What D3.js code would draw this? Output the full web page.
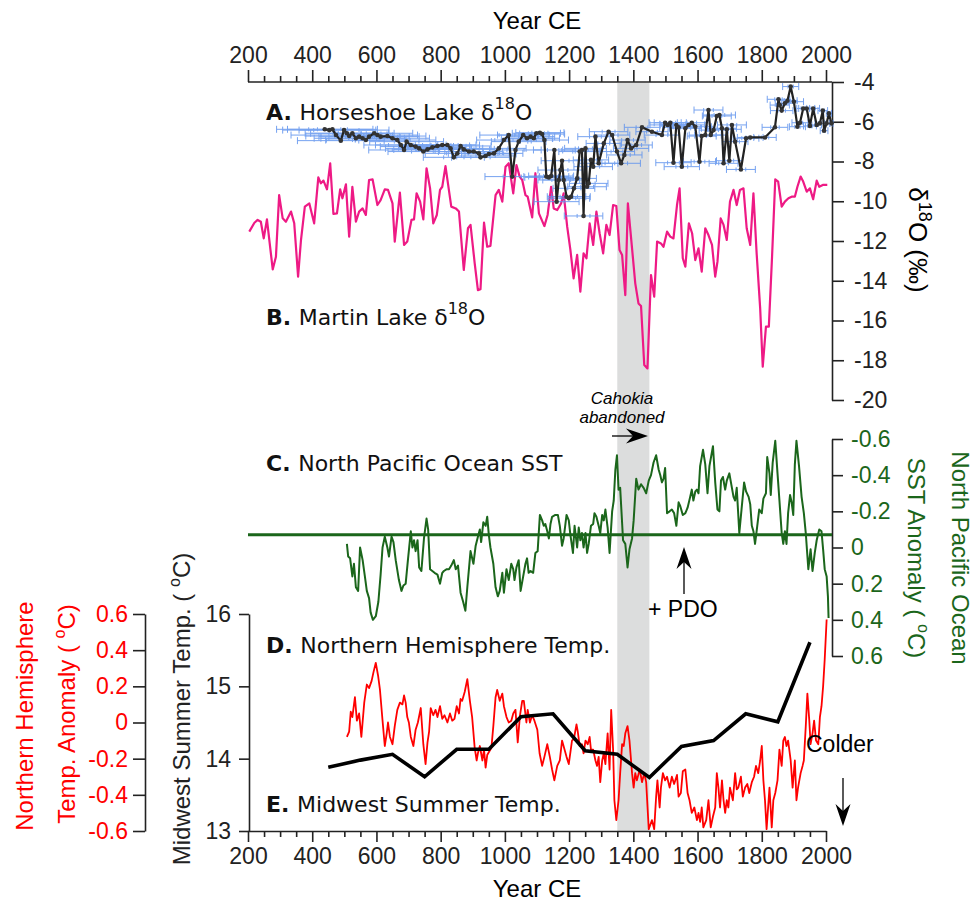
<!DOCTYPE html>
<html><head><meta charset="utf-8">
<script src="https://cdn.jsdelivr.net/npm/d3@7"></script>
<style>body{margin:0;background:#fff}</style>
</head><body>
<svg id="c" width="973" height="902"></svg>
<script>
// ---------------- DATA ----------------
const yearTicks = [200,400,600,800,1000,1200,1400,1600,1800,2000];
const d18OTicks = [-4,-6,-8,-10,-12,-14,-16,-18,-20];
const sstTicks = [-0.6,-0.4,-0.2,0,0.2,0.4,0.6];
const nhTicks = [-0.6,-0.4,-0.2,0,0.2,0.4,0.6];
const midwestTicks = [13,14,15,16];
const cahokiaSpan = [1350,1450];
const sstMean = -0.07;

// Horseshoe Lake d18O: [year, d18O, age uncertainty (yr)]
const horseshoe = [[439,-6.38,150],[453,-6.42,145],[463,-6.38,140],[474,-6.67,140],[489,-6.95,135],[499,-6.42,140],[508,-6.58,130],[515,-6.72,135],[525,-6.58,130],[536,-6.83,130],[546,-6.75,125],[557,-6.83,130],[567,-6.92,125],[577,-6.75,125],[593,-6.58,120],[603,-6.67,125],[613,-6.75,120],[634,-6.72,120],[650,-6.83,115],[665,-6.92,120],[676,-7.17,115],[686,-7.42,110],[694,-7.00,115],[707,-7.17,110],[722,-7.25,110],[733,-7.34,105],[746,-7.50,110],[759,-7.39,105],[774,-7.29,105],[790,-7.22,100],[805,-7.17,105],[821,-7.17,100],[831,-7.34,100],[841,-7.79,95],[852,-7.59,100],[862,-7.22,95],[872,-7.39,95],[888,-7.50,95],[903,-7.50,90],[919,-7.59,95],[924,-7.79,90],[940,-7.72,90],[950,-7.62,85],[966,-7.59,90],[981,-7.34,85],[997,-6.92,85],[1012,-6.67,90],[1023,-8.76,85],[1033,-7.42,80],[1043,-7.00,85],[1057,-6.67,80],[1069,-6.83,80],[1080,-6.75,75],[1090,-6.83,80],[1098,-6.58,75],[1109,-6.55,75],[1116,-6.62,70],[1123,-6.92,75],[1129,-8.76,70],[1137,-8.80,75],[1144,-8.73,70],[1154,-7.42,65],[1161,-10.02,70],[1168,-8.93,65],[1173,-8.43,70],[1178,-7.96,65],[1183,-8.93,65],[1192,-9.77,60],[1199,-9.85,65],[1206,-9.77,60],[1215,-9.35,65],[1225,-8.85,60],[1233,-7.50,65],[1240,-7.42,60],[1245,-10.74,60],[1251,-7.34,65],[1256,-9.27,60],[1261,-9.10,60],[1268,-7.92,55],[1275,-8.26,60],[1282,-6.75,55],[1292,-8.09,60],[1308,-7.09,55],[1323,-6.50,60],[1334,-6.67,55],[1349,-7.50,55],[1362,-8.09,60],[1372,-7.67,55],[1382,-6.92,55],[1393,-7.34,55],[1409,-7.17,50],[1427,-6.28,55],[1458,-6.50,50],[1489,-6.67,55],[1499,-6.05,50],[1507,-6.16,55],[1515,-6.05,50],[1525,-8.06,55],[1534,-6.16,50],[1541,-6.28,50],[1551,-8.26,55],[1562,-6.33,50],[1572,-6.16,50],[1582,-6.05,45],[1593,-6.25,50],[1606,-8.01,50],[1613,-6.72,45],[1624,-6.67,50],[1634,-5.41,45],[1641,-6.67,50],[1650,-6.42,45],[1660,-5.71,45],[1668,-5.66,50],[1676,-6.33,45],[1681,-8.09,45],[1691,-6.38,45],[1699,-7.96,40],[1707,-6.16,45],[1717,-7.00,40],[1735,-8.40,45],[1751,-6.83,40],[1764,-6.79,40],[1810,-6.79,35],[1841,-6.28,40],[1852,-4.87,35],[1856,-5.16,30],[1862,-5.44,35],[1872,-5.07,30],[1880,-4.94,30],[1890,-4.23,25],[1900,-4.99,30],[1911,-6.25,25],[1919,-6.05,25],[1929,-5.33,20],[1940,-5.33,25],[1950,-6.21,20],[1960,-5.33,20],[1971,-6.16,15],[1981,-6.08,15],[1990,-5.44,15],[1994,-6.45,12],[2002,-6.08,10],[2009,-5.58,8],[2017,-6.08,5]];

// Martin Lake d18O: [year, d18O]
const martin = [[204,-11.53],[220,-11.08],[230,-10.94],[240,-11.03],[249,-11.87],[259,-10.91],[277,-13.43],[287,-12.79],[297,-9.69],[308,-10.86],[318,-11.03],[334,-10.52],[344,-11.11],[356,-13.79],[365,-11.95],[377,-10.27],[391,-10.11],[406,-11.11],[419,-8.80],[427,-9.10],[435,-8.96],[446,-9.40],[456,-8.09],[466,-10.64],[477,-10.61],[487,-9.40],[494,-9.85],[505,-9.15],[515,-11.78],[525,-9.27],[536,-11.03],[546,-10.52],[557,-10.36],[567,-10.69],[577,-8.93],[588,-8.90],[603,-10.19],[613,-9.94],[626,-9.40],[636,-9.43],[650,-10.11],[657,-12.03],[673,-9.57],[686,-12.20],[696,-12.03],[709,-10.94],[717,-10.91],[725,-9.60],[736,-10.02],[746,-10.91],[756,-8.34],[767,-9.35],[777,-11.11],[788,-10.69],[798,-9.43],[805,-9.27],[815,-8.23],[833,-10.27],[847,-10.36],[857,-10.52],[872,-13.46],[885,-11.36],[893,-11.19],[906,-13.12],[916,-14.47],[924,-14.43],[935,-11.08],[945,-12.29],[955,-12.25],[971,-9.69],[981,-9.43],[992,-10.02],[1002,-8.26],[1012,-8.09],[1026,-9.60],[1036,-8.18],[1046,-8.76],[1054,-8.93],[1064,-9.69],[1071,-9.77],[1085,-10.81],[1095,-8.59],[1106,-10.61],[1123,-11.25],[1133,-10.69],[1144,-9.27],[1152,-10.36],[1163,-10.44],[1175,-10.11],[1183,-9.60],[1194,-11.28],[1204,-12.45],[1214,-13.88],[1225,-12.70],[1235,-14.55],[1245,-12.62],[1254,-12.87],[1264,-11.11],[1275,-12.20],[1285,-10.52],[1295,-11.61],[1306,-12.62],[1316,-11.19],[1326,-11.70],[1337,-10.19],[1347,-10.24],[1357,-12.45],[1365,-12.70],[1375,-14.72],[1383,-10.11],[1396,-12.37],[1406,-14.13],[1416,-15.14],[1424,-15.27],[1434,-18.24],[1444,-18.41],[1455,-13.71],[1465,-14.80],[1474,-12.03],[1486,-12.12],[1494,-12.29],[1505,-11.53],[1515,-11.78],[1525,-11.87],[1536,-10.19],[1544,-9.35],[1554,-12.87],[1562,-13.29],[1573,-11.11],[1583,-11.61],[1593,-12.96],[1603,-12.37],[1613,-13.54],[1624,-11.36],[1634,-11.70],[1645,-12.20],[1655,-13.79],[1662,-13.04],[1672,-10.86],[1681,-11.19],[1691,-11.95],[1701,-10.02],[1712,-9.43],[1722,-10.19],[1732,-9.43],[1743,-9.35],[1753,-11.36],[1764,-12.20],[1774,-9.60],[1784,-12.62],[1795,-15.39],[1803,-18.32],[1813,-16.31],[1822,-16.31],[1832,-12.79],[1842,-8.90],[1851,-9.01],[1862,-10.27],[1872,-10.02],[1883,-9.85],[1893,-9.77],[1903,-9.77],[1911,-9.27],[1921,-8.76],[1929,-9.01],[1940,-9.52],[1950,-9.35],[1960,-9.90],[1971,-8.96],[1979,-9.27],[1990,-9.18],[2004,-9.18]];

// North Pacific SST anomaly (deg C): [year, anomaly]
const sst = [[508,-0.02],[512,0.05],[518,0.06],[525,0.16],[530,0.09],[536,0.22],[543,0.24],[549,0.00],[557,0.07],[564,0.16],[570,0.24],[577,0.28],[582,0.36],[589,0.40],[598,0.38],[606,0.30],[613,0.15],[619,0.00],[626,-0.06],[634,0.00],[639,0.05],[647,-0.06],[653,-0.03],[660,0.07],[670,0.18],[678,0.24],[684,0.21],[691,0.20],[698,0.07],[707,-0.09],[712,0.00],[717,-0.04],[722,0.02],[728,-0.04],[733,0.11],[740,0.13],[748,-0.05],[756,-0.16],[761,-0.10],[767,0.12],[774,0.13],[781,0.14],[790,0.15],[798,0.20],[805,0.14],[810,0.13],[819,0.12],[826,0.12],[833,0.10],[841,0.07],[847,0.12],[854,0.10],[862,0.25],[870,0.30],[877,0.35],[883,0.22],[893,0.02],[902,0.09],[909,-0.01],[916,-0.06],[922,-0.10],[926,-0.03],[933,-0.14],[940,-0.12],[945,-0.17],[950,-0.07],[955,0.00],[964,0.09],[971,0.22],[978,0.27],[984,0.24],[992,0.14],[997,0.25],[1005,0.12],[1012,0.18],[1020,0.09],[1026,0.12],[1030,0.18],[1036,0.11],[1043,0.07],[1049,0.24],[1057,0.16],[1064,0.09],[1069,0.06],[1074,0.14],[1080,0.13],[1088,0.14],[1095,0.03],[1102,0.02],[1109,-0.18],[1116,-0.15],[1121,-0.12],[1126,-0.13],[1132,-0.09],[1137,-0.05],[1142,-0.13],[1147,-0.17],[1157,-0.18],[1165,-0.18],[1171,-0.12],[1178,-0.01],[1183,-0.05],[1192,-0.18],[1199,-0.15],[1204,-0.07],[1212,0.03],[1217,-0.12],[1225,0.00],[1230,-0.11],[1235,-0.04],[1240,-0.08],[1245,0.00],[1251,-0.08],[1256,0.03],[1261,-0.02],[1268,-0.12],[1275,-0.13],[1279,-0.19],[1285,-0.17],[1292,-0.12],[1297,-0.08],[1303,-0.18],[1308,-0.15],[1313,-0.21],[1320,-0.11],[1326,0.03],[1334,-0.20],[1339,-0.26],[1344,-0.43],[1349,-0.51],[1354,-0.32],[1359,-0.33],[1368,-0.04],[1375,-0.02],[1382,0.11],[1388,0.01],[1396,-0.05],[1401,-0.15],[1409,-0.38],[1416,-0.32],[1424,-0.35],[1432,-0.33],[1440,-0.30],[1448,-0.37],[1455,-0.40],[1463,-0.47],[1471,-0.51],[1479,-0.43],[1484,-0.40],[1489,-0.36],[1494,-0.38],[1499,-0.44],[1505,-0.19],[1513,-0.20],[1520,-0.21],[1527,-0.19],[1534,-0.12],[1541,-0.25],[1546,-0.23],[1554,-0.18],[1562,-0.19],[1569,-0.22],[1577,-0.28],[1582,-0.32],[1587,-0.26],[1593,-0.31],[1598,-0.32],[1603,-0.30],[1608,-0.45],[1617,-0.54],[1624,-0.46],[1631,-0.30],[1637,-0.45],[1648,-0.56],[1655,-0.36],[1662,-0.21],[1668,-0.20],[1673,-0.37],[1679,-0.39],[1686,-0.32],[1691,-0.37],[1699,-0.41],[1707,-0.33],[1712,-0.28],[1717,-0.26],[1722,-0.33],[1730,-0.08],[1738,-0.23],[1745,-0.36],[1751,-0.31],[1759,-0.28],[1764,-0.24],[1769,-0.12],[1774,-0.09],[1779,-0.02],[1784,-0.09],[1792,-0.21],[1800,-0.19],[1805,-0.27],[1813,-0.30],[1817,-0.50],[1824,-0.41],[1828,-0.29],[1834,-0.47],[1842,-0.59],[1849,-0.41],[1855,-0.26],[1862,-0.08],[1867,-0.02],[1872,-0.09],[1877,-0.02],[1882,-0.19],[1888,-0.29],[1893,-0.25],[1898,-0.18],[1903,-0.46],[1908,-0.59],[1916,-0.45],[1924,-0.28],[1931,-0.19],[1937,-0.08],[1945,0.12],[1952,0.01],[1958,0.13],[1965,0.03],[1971,-0.04],[1979,-0.10],[1986,-0.09],[1991,0.01],[1996,0.12],[2002,0.16],[2006,0.27],[2008,0.39]];

// Northern Hemisphere temperature anomaly (deg C): [year, anomaly]
const nhTemp = [[508,-0.08],[515,-0.05],[520,0.06],[525,0.03],[533,0.14],[539,0.01],[546,0.05],[553,-0.08],[562,0.11],[570,0.21],[577,0.19],[585,0.23],[591,0.28],[598,0.33],[605,0.26],[611,0.18],[619,0.01],[626,-0.13],[632,-0.06],[636,0.00],[642,-0.08],[650,-0.12],[657,-0.02],[665,0.07],[673,0.11],[681,0.10],[686,0.15],[691,0.11],[696,0.03],[701,0.00],[707,-0.08],[715,-0.13],[722,-0.04],[729,0.00],[738,0.08],[746,-0.12],[753,-0.23],[759,-0.11],[764,-0.05],[769,0.08],[777,0.04],[784,0.07],[790,0.03],[798,0.09],[805,0.02],[812,0.04],[821,0.00],[829,0.05],[836,0.01],[843,0.02],[850,0.09],[857,0.05],[862,0.13],[867,0.12],[875,0.17],[883,0.24],[891,0.12],[898,0.03],[906,-0.14],[912,-0.21],[916,-0.17],[922,-0.13],[930,-0.21],[935,-0.15],[940,-0.25],[945,-0.18],[958,-0.14],[964,-0.02],[971,0.14],[976,0.18],[984,0.12],[992,0.16],[997,0.09],[1005,0.03],[1012,0.00],[1020,0.01],[1026,0.05],[1033,0.07],[1040,-0.11],[1047,0.04],[1054,0.12],[1059,0.12],[1067,0.00],[1071,0.07],[1078,0.00],[1085,0.04],[1092,0.01],[1101,-0.04],[1108,-0.17],[1116,-0.24],[1123,-0.19],[1132,-0.12],[1140,-0.19],[1147,-0.26],[1154,-0.32],[1163,-0.24],[1171,-0.21],[1178,-0.10],[1192,-0.19],[1199,-0.23],[1209,-0.10],[1215,-0.09],[1223,-0.01],[1227,-0.05],[1233,-0.13],[1240,-0.12],[1245,-0.17],[1251,-0.10],[1258,-0.12],[1264,-0.08],[1268,-0.15],[1275,-0.15],[1282,-0.21],[1287,-0.24],[1292,-0.19],[1297,-0.33],[1303,-0.21],[1308,-0.17],[1313,-0.23],[1320,-0.06],[1326,-0.26],[1331,0.07],[1337,-0.15],[1341,-0.43],[1347,-0.54],[1354,-0.43],[1359,-0.28],[1365,-0.12],[1370,-0.13],[1375,-0.06],[1382,-0.02],[1388,-0.10],[1396,-0.28],[1401,-0.36],[1406,-0.28],[1411,-0.32],[1420,-0.26],[1427,-0.33],[1434,-0.28],[1440,-0.33],[1448,-0.59],[1458,-0.54],[1465,-0.59],[1471,-0.41],[1475,-0.32],[1482,-0.47],[1486,-0.36],[1492,-0.28],[1499,-0.32],[1505,-0.30],[1513,-0.36],[1520,-0.30],[1527,-0.34],[1536,-0.29],[1541,-0.41],[1548,-0.39],[1554,-0.27],[1562,-0.26],[1569,-0.39],[1575,-0.43],[1582,-0.50],[1590,-0.47],[1598,-0.54],[1603,-0.50],[1608,-0.55],[1613,-0.47],[1618,-0.58],[1627,-0.54],[1634,-0.43],[1641,-0.58],[1648,-0.52],[1655,-0.47],[1660,-0.28],[1665,-0.36],[1670,-0.47],[1676,-0.32],[1681,-0.43],[1686,-0.50],[1691,-0.43],[1696,-0.47],[1701,-0.36],[1710,-0.43],[1717,-0.28],[1722,-0.37],[1727,-0.36],[1735,-0.30],[1741,-0.41],[1748,-0.36],[1755,-0.34],[1761,-0.39],[1769,-0.33],[1776,-0.30],[1782,-0.24],[1789,-0.28],[1795,-0.21],[1800,-0.13],[1805,-0.32],[1810,-0.43],[1815,-0.59],[1824,-0.36],[1831,-0.58],[1836,-0.43],[1842,-0.39],[1849,-0.32],[1855,-0.15],[1862,-0.24],[1867,-0.10],[1872,-0.08],[1877,-0.13],[1882,-0.10],[1890,-0.21],[1896,-0.36],[1903,-0.21],[1908,-0.43],[1913,-0.36],[1921,-0.28],[1927,-0.24],[1931,-0.21],[1937,-0.02],[1942,0.16],[1948,0.01],[1952,-0.12],[1958,-0.06],[1963,0.01],[1969,-0.10],[1976,-0.12],[1981,0.03],[1986,0.09],[1991,0.20],[1996,0.35],[2002,0.57]];

// Midwest summer temperature (deg C): [year, temp]
const midwest = [[450,13.88],[550,13.98],[650,14.06],[750,13.75],[850,14.13],[950,14.13],[1050,14.58],[1150,14.62],[1250,14.11],[1350,14.06],[1450,13.74],[1550,14.17],[1650,14.25],[1750,14.62],[1850,14.51],[1950,15.61]];

// ---------------- CHART ----------------
const SANS = "'Liberation Sans', Arial, Helvetica, sans-serif";
const LBL = "'DejaVu Sans', Verdana, sans-serif";
const GREEN = "#1b661b", PINK = "#ee1a85", RED = "#ff0000", BLUE = "#5f93ee", AX = "#222";

const svg = d3.select("#c");
const x = d3.scaleLinear().domain([200, 2000]).range([248, 826]);
const yD = d3.scaleLinear().domain([-4, -20]).range([82, 400]);
const yS = d3.scaleLinear().domain([-0.6, 0.6]).range([439, 656]);
const yN = d3.scaleLinear().domain([-0.6, 0.6]).range([831, 614]);
const yM = d3.scaleLinear().domain([13, 16]).range([831, 614]);
const RIGHT_X = 832;
const fmtNum = d => Math.abs(d) < 1e-9 ? "0" : (Number.isInteger(d) ? String(d) : d.toFixed(1));

// Cahokia band
svg.append("rect").attr("x", x(cahokiaSpan[0])).attr("y", 83)
  .attr("width", x(cahokiaSpan[1]) - x(cahokiaSpan[0])).attr("height", 831 - 83)
  .attr("fill", "#dcdddd");

function styleAxis(g, color, fs) {
  g.selectAll(".domain").attr("stroke", AX).attr("stroke-width", 1.6);
  g.selectAll(".tick line").attr("stroke", AX).attr("stroke-width", 1.6);
  g.selectAll(".tick text").attr("fill", color).style("font-family", SANS).style("font-size", fs + "px");
}
const minorYears = d3.range(200, 2001, 50).filter(d => d % 200 !== 0);

// top axis
const gTopMinor = svg.append("g").attr("transform", "translate(0,82)")
  .call(d3.axisTop(x).tickValues(minorYears).tickSize(6).tickFormat("").tickSizeOuter(0));
gTopMinor.select(".domain").remove();
const gTop = svg.append("g").attr("transform", "translate(0,82)")
  .call(d3.axisTop(x).tickValues(yearTicks).tickSize(12).tickPadding(7).tickFormat(d => String(d)).tickSizeOuter(0));
gTop.select(".domain").remove();
styleAxis(gTopMinor, AX, 23); styleAxis(gTop, AX, 23);
svg.append("line").attr("x1", x(200)).attr("x2", RIGHT_X).attr("y1", 82).attr("y2", 82)
  .attr("stroke", AX).attr("stroke-width", 1.6);
svg.append("text").attr("x", x(1100)).attr("y", 29).attr("text-anchor", "middle")
  .style("font-family", SANS).style("font-size", "24px").text("Year CE");

// bottom axis
const gBotMinor = svg.append("g").attr("transform", "translate(0,831)")
  .call(d3.axisBottom(x).tickValues(minorYears).tickSize(6).tickFormat("").tickSizeOuter(0));
gBotMinor.select(".domain").remove();
const gBot = svg.append("g").attr("transform", "translate(0,831)")
  .call(d3.axisBottom(x).tickValues(yearTicks).tickSize(11).tickPadding(6).tickFormat(d => String(d)).tickSizeOuter(0));
styleAxis(gBotMinor, AX, 23); styleAxis(gBot, AX, 23);
svg.append("text").attr("x", x(1100)).attr("y", 897).attr("text-anchor", "middle")
  .style("font-family", SANS).style("font-size", "24px").text("Year CE");

// right d18O axis
const gD = svg.append("g").attr("transform", `translate(${RIGHT_X},0)`)
  .call(d3.axisRight(yD).tickValues(d18OTicks).tickSize(12).tickPadding(10).tickSizeOuter(0).tickFormat(d => String(d)));
styleAxis(gD, AX, 23);
const tD = svg.append("text").attr("transform", "translate(909,240) rotate(90)").attr("text-anchor", "middle")
  .style("font-family", SANS).style("font-size", "26px");
tD.append("tspan").text("δ");
tD.append("tspan").attr("dy", -10).style("font-size", "18px").text("18");
tD.append("tspan").attr("dy", 10).text("O (‰)");

// right SST axis
const gS = svg.append("g").attr("transform", `translate(${RIGHT_X},0)`)
  .call(d3.axisRight(yS).tickValues(sstTicks).tickSize(11).tickPadding(8).tickSizeOuter(0).tickFormat(fmtNum));
styleAxis(gS, GREEN, 23);
function degTitle(tx, ty, rot, pre, color) {
  const t = svg.append("text").attr("transform", `translate(${tx},${ty}) rotate(${rot})`)
    .attr("text-anchor", "middle").attr("fill", color).style("font-family", SANS).style("font-size", "24px");
  t.append("tspan").text(pre + "( ");
  t.append("tspan").attr("dy", -10).style("font-size", "16px").text("o");
  t.append("tspan").attr("dy", 10).text("C)");
}
degTitle(908, 558, 90, "SST Anomaly ", GREEN);
svg.append("text").attr("transform", "translate(952,558) rotate(90)").attr("text-anchor", "middle")
  .attr("fill", GREEN).style("font-family", SANS).style("font-size", "24px").text("North Pacific Ocean");

// left NH axis
const gN = svg.append("g").attr("transform", "translate(145,0)")
  .call(d3.axisLeft(yN).tickValues(nhTicks).tickSize(12).tickPadding(5).tickSizeOuter(0).tickFormat(fmtNum));
styleAxis(gN, RED, 23);
svg.append("text").attr("transform", "translate(33,716) rotate(-90)").attr("text-anchor", "middle")
  .attr("fill", RED).style("font-family", SANS).style("font-size", "24px").text("Northern Hemisphere");
degTitle(75, 714, -90, "Temp. Anomaly ", RED);

// left Midwest axis
const gM = svg.append("g").attr("transform", "translate(249,0)")
  .call(d3.axisLeft(yM).tickValues(midwestTicks).tickSize(10).tickPadding(8).tickSizeOuter(0).tickFormat(fmtNum));
styleAxis(gM, AX, 23);
degTitle(190, 709, -90, "Midwest Summer Temp. ", AX);

// ---- series ----
const line = (yS_) => d3.line().x(d => x(d[0])).y(d => yS_(d[1]));

// Martin Lake
svg.append("path").datum(martin).attr("d", line(yD)).attr("fill", "none")
  .attr("stroke", PINK).attr("stroke-width", 2.2).attr("stroke-linejoin", "round");

// Horseshoe error bars
const eb = svg.append("g").attr("stroke", BLUE).attr("stroke-width", 1).attr("opacity", 0.85);
horseshoe.forEach(d => {
  const y0 = yD(d[1]), xa = x(d[0] - d[2]), xb = x(d[0] + d[2]);
  eb.append("line").attr("x1", xa).attr("x2", xb).attr("y1", y0).attr("y2", y0);
  eb.append("line").attr("x1", xa).attr("x2", xa).attr("y1", y0 - 3.5).attr("y2", y0 + 3.5);
  eb.append("line").attr("x1", xb).attr("x2", xb).attr("y1", y0 - 3.5).attr("y2", y0 + 3.5);
  for (let k = 1; k < 3; k++) {
    const xm = x(d[0] - d[2] + 2 * d[2] * k / 3);
    eb.append("line").attr("x1", xm).attr("x2", xm).attr("y1", y0 - 2).attr("y2", y0 + 2);
  }
});
svg.append("path").datum(horseshoe).attr("d", line(yD)).attr("fill", "none")
  .attr("stroke", "#222").attr("stroke-width", 2.2).attr("stroke-linejoin", "round");
svg.append("g").selectAll("circle").data(horseshoe).join("circle")
  .attr("cx", d => x(d[0])).attr("cy", d => yD(d[1])).attr("r", 2.3).attr("fill", "#333");

// SST
svg.append("line").attr("x1", x(200)).attr("x2", RIGHT_X).attr("y1", yS(sstMean)).attr("y2", yS(sstMean))
  .attr("stroke", GREEN).attr("stroke-width", 3);
svg.append("path").datum(sst).attr("d", line(yS)).attr("fill", "none")
  .attr("stroke", GREEN).attr("stroke-width", 2).attr("stroke-linejoin", "round");

// NH temp
svg.append("path").datum(nhTemp).attr("d", line(yN)).attr("fill", "none")
  .attr("stroke", RED).attr("stroke-width", 1.8).attr("stroke-linejoin", "round");
// Midwest
svg.append("path").datum(midwest).attr("d", line(yM)).attr("fill", "none")
  .attr("stroke", "#000").attr("stroke-width", 3.6).attr("stroke-linejoin", "miter");

// ---- panel labels ----
function panelLabel(yb, letter, text, sup, tail) {
  const t = svg.append("text").attr("x", 266).attr("y", yb).style("font-family", LBL).style("font-size", "22px").attr("fill", "#111");
  t.append("tspan").style("font-weight", "bold").text(letter + " ");
  t.append("tspan").text(text);
  if (sup) {
    t.append("tspan").attr("dy", -11).style("font-size", "16px").text(sup);
    t.append("tspan").attr("dy", 11).text(tail);
  }
}
panelLabel(120, "A.", "Horseshoe Lake δ", "18", "O");
panelLabel(325, "B.", "Martin Lake δ", "18", "O");
panelLabel(471, "C.", "North Pacific Ocean SST");
panelLabel(653, "D.", "Northern Hemisphere Temp.");
panelLabel(812, "E.", "Midwest Summer Temp.");

// ---- annotations ----
function arrow(x1, y1, x2, y2) {
  const ang = Math.atan2(y2 - y1, x2 - x1), L = 22, W = 7.5, N = 15;
  const ca = Math.cos(ang), sa = Math.sin(ang);
  const bx = x2 - L * ca, by = y2 - L * sa;
  const nx = x2 - N * ca, ny = y2 - N * sa;
  svg.append("line").attr("x1", x1).attr("y1", y1).attr("x2", nx).attr("y2", ny).attr("stroke", "#000").attr("stroke-width", 1.3);
  svg.append("path").attr("d", `M${x2},${y2}L${bx - W * sa},${by + W * ca}L${nx},${ny}L${bx + W * sa},${by - W * ca}Z`).attr("fill", "#000");
}
const it = svg.append("text").attr("text-anchor", "middle").style("font-family", SANS).style("font-size", "17px").style("font-style", "italic");
it.append("tspan").attr("x", 622).attr("y", 404).text("Cahokia");
it.append("tspan").attr("x", 622).attr("y", 423).text("abandoned");
arrow(612, 436, 648, 436);
svg.append("text").attr("x", 648).attr("y", 617).style("font-family", SANS).style("font-size", "23px").text("+ PDO");
arrow(684, 594, 684, 547);
svg.append("text").attr("x", 806).attr("y", 752).style("font-family", SANS).style("font-size", "23px").text("Colder");
arrow(843, 778, 843, 826);
</script>
</body></html>
